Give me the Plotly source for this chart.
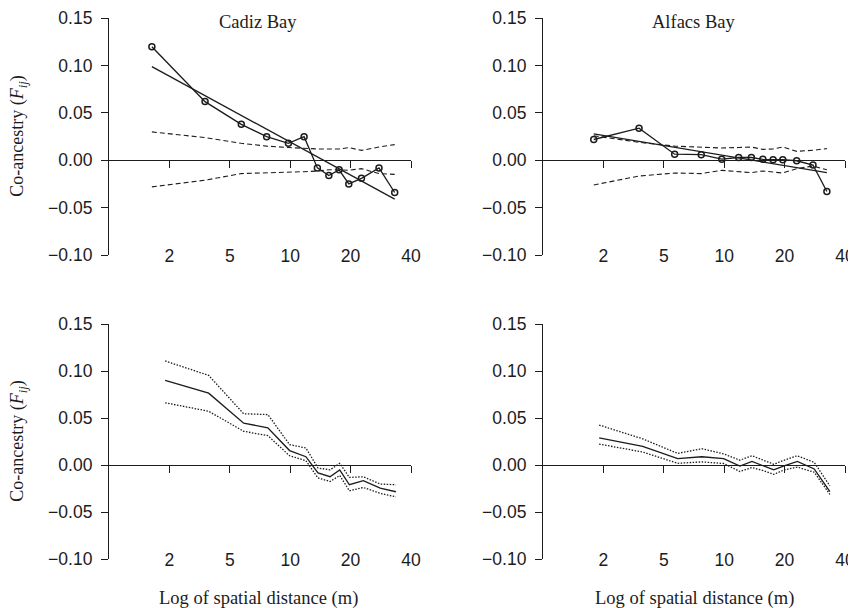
import plotly.graph_objects as go

# ---------------- data (x = position on the distance-class axis) ----------------
tick_pos = [0, 1, 2, 3, 4]
tick_labels = ["2", "5", "10", "20", "40"]
y_ticks = [-0.10, -0.05, 0.00, 0.05, 0.10, 0.15]
y_tick_labels = ["\u22120.10", "\u22120.05", "0.00", "0.05", "0.10", "0.15"]

# Top row: observed co-ancestry with permutation envelopes and regression
cadiz_dist = [-0.29, 0.59, 1.19, 1.61, 1.97, 2.23, 2.45, 2.64, 2.81, 2.97, 3.18, 3.47, 3.73]
cadiz_fij = [0.120, 0.062, 0.038, 0.025, 0.018, 0.025, -0.008, -0.016, -0.010, -0.025, -0.019, -0.008, -0.034]
cadiz_env_hi = [0.030, 0.024, 0.018, 0.015, 0.0135, 0.0125, 0.012, 0.012, 0.012, 0.0134, 0.0105, 0.014, 0.0166]
cadiz_env_lo = [-0.028, -0.021, -0.014, -0.0134, -0.0123, -0.012, -0.0113, -0.010, -0.010, -0.0105, -0.0088, -0.014, -0.0148]
cadiz_reg_x = [-0.29, 3.73]
cadiz_reg_y = [0.099, -0.041]

alfacs_dist = [-0.16, 0.59, 1.18, 1.62, 1.96, 2.24, 2.45, 2.64, 2.81, 2.97, 3.20, 3.47, 3.70]
alfacs_fij = [0.022, 0.034, 0.0065, 0.006, 0.0012, 0.003, 0.003, 0.001, 0.0007, 0.0007, -0.0005, -0.005, -0.033]
alfacs_env_hi = [0.026, 0.019, 0.015, 0.014, 0.013, 0.0135, 0.014, 0.0116, 0.012, 0.014, 0.0095, 0.0106, 0.0124]
alfacs_env_lo = [-0.026, -0.0166, -0.0134, -0.014, -0.0106, -0.012, -0.013, -0.0113, -0.012, -0.0134, -0.0088, -0.006, -0.010]
alfacs_reg_x = [-0.16, 3.70]
alfacs_reg_y = [0.028, -0.013]

# Bottom row: bootstrap mean with confidence limits
boot_dist = [-0.07, 0.65, 1.23, 1.63, 1.99, 2.26, 2.46, 2.66, 2.82, 2.98, 3.21, 3.49, 3.75]
cadiz_mean = [0.090, 0.0765, 0.0446, 0.0397, 0.0155, 0.009, -0.0083, -0.0123, -0.0051, -0.0208, -0.0165, -0.0243, -0.0282]
cadiz_hi = [0.1107, 0.0954, 0.0546, 0.0538, 0.0218, 0.0183, -0.003, -0.005, 0.002, -0.013, -0.0123, -0.020, -0.0208]
cadiz_lo = [0.0663, 0.0573, 0.036, 0.0314, 0.010, 0.0048, -0.0136, -0.0173, -0.011, -0.0272, -0.0237, -0.030, -0.0336]

alfacs_mean = [0.029, 0.020, 0.007, 0.009, 0.007, -0.001, 0.004, -0.001, -0.005, -0.001, 0.004, -0.004, -0.028]
alfacs_hi = [0.0426, 0.028, 0.0125, 0.0175, 0.012, 0.0053, 0.010, 0.005, 0.001, 0.005, 0.010, 0.003, -0.022]
alfacs_lo = [0.0224, 0.014, 0.002, 0.0035, 0.0018, -0.0067, -0.0025, -0.006, -0.0098, -0.0053, -0.002, -0.0075, -0.031]

panel_titles = ["Cadiz Bay", "Alfacs Bay"]
y_title = "Co-ancestry (<i>F</i><sub><i>ij</i></sub>)"
x_title = "Log of spatial distance (m)"

# ---------------- styling / layout ----------------
OFF = 8                 # page body margin
FW, FH = 848, 600       # figure size so that it ends at the window edge
INK = "#1c1c1c"
SANS = "Liberation Sans, Arial, Helvetica, sans-serif"
SERIF = "Liberation Serif, Times New Roman, serif"
XR = [-1, 4]
YR = [-0.10, 0.15]


def fx(p):  # page pixel x -> paper fraction
    return (p - OFF) / FW


def fy(p):  # page pixel y -> paper fraction (from bottom)
    return 1 - (p - OFF) / FH


xdoms = [[fx(109), fx(411)], [fx(543), fx(845)]]
ydoms = [[fy(255), fy(18.3)], [fy(559.3), fy(324)]]
title_x = [258, 693]

fig = go.Figure()

panels = [(0, 0), (0, 1), (1, 0), (1, 1)]
line_w = 1.35


def add(trace_kwargs, idx):
    sfx = "" if idx == 1 else str(idx)
    fig.add_trace(go.Scatter(xaxis="x" + sfx, yaxis="y" + sfx, showlegend=False,
                             hoverinfo="skip", **trace_kwargs))


dash_env = dict(color=INK, width=1.1, dash="5px,3px")
dot_ci = dict(color=INK, width=1.3, dash="1.5px,1.5px")
solid = dict(color=INK, width=line_w)
circ = dict(symbol="circle-open", size=6, color=INK, line=dict(width=1.5, color=INK))

# panel 1: Cadiz top
add(dict(x=cadiz_dist, y=cadiz_env_hi, mode="lines", line=dash_env), 1)
add(dict(x=cadiz_dist, y=cadiz_env_lo, mode="lines", line=dash_env), 1)
add(dict(x=cadiz_reg_x, y=cadiz_reg_y, mode="lines", line=solid), 1)
add(dict(x=cadiz_dist, y=cadiz_fij, mode="lines+markers", line=solid, marker=circ), 1)
# panel 2: Alfacs top
add(dict(x=alfacs_dist, y=alfacs_env_hi, mode="lines", line=dash_env), 2)
add(dict(x=alfacs_dist, y=alfacs_env_lo, mode="lines", line=dash_env), 2)
add(dict(x=alfacs_reg_x, y=alfacs_reg_y, mode="lines", line=solid), 2)
add(dict(x=alfacs_dist, y=alfacs_fij, mode="lines+markers", line=solid, marker=circ), 2)
# panel 3: Cadiz bottom
add(dict(x=boot_dist, y=cadiz_hi, mode="lines", line=dot_ci), 3)
add(dict(x=boot_dist, y=cadiz_lo, mode="lines", line=dot_ci), 3)
add(dict(x=boot_dist, y=cadiz_mean, mode="lines", line=solid), 3)
# panel 4: Alfacs bottom
add(dict(x=boot_dist, y=alfacs_hi, mode="lines", line=dot_ci), 4)
add(dict(x=boot_dist, y=alfacs_lo, mode="lines", line=dot_ci), 4)
add(dict(x=boot_dist, y=alfacs_mean, mode="lines", line=solid), 4)

layout = dict(
    width=FW, height=FH,
    margin=dict(l=0, r=0, t=0, b=0),
    paper_bgcolor="white", plot_bgcolor="white",
    showlegend=False,
)

annotations = []
for i, (r, c) in enumerate(panels, start=1):
    sfx = "" if i == 1 else str(i)
    xd, yd = xdoms[c], ydoms[r]
    zero_pos = yd[0] + (0 - YR[0]) / (YR[1] - YR[0]) * (yd[1] - yd[0])
    # axis carrying data: drawn along y = 0 with downward ticks
    layout["xaxis" + sfx] = dict(
        domain=xd, range=XR, anchor="free", position=zero_pos,
        showline=True, linecolor=INK, linewidth=1.2,
        ticks="outside", ticklen=7, tickwidth=1.2, tickcolor=INK,
        tickvals=tick_pos, ticktext=tick_labels, showticklabels=False,
        showgrid=False, zeroline=False, fixedrange=True,
    )
    layout["yaxis" + sfx] = dict(
        domain=yd, range=YR, anchor="x" + sfx,
        showline=True, linecolor=INK, linewidth=1.2,
        ticks="outside", ticklen=7, tickwidth=1.2, tickcolor=INK,
        tickvals=y_ticks, ticktext=y_tick_labels,
        tickfont=dict(family=SANS, size=17.5, color=INK),
        ticklabelstandoff=5,
        showgrid=False, zeroline=False, fixedrange=True, automargin=False,
    )
    # label-only axis at the bottom edge of the panel
    j = i + 4
    layout["xaxis" + str(j)] = dict(
        domain=xd, range=XR, anchor="y" + sfx, overlaying="x" + sfx, side="bottom",
        showline=False, ticks="", tickvals=tick_pos, ticktext=tick_labels,
        tickfont=dict(family=SANS, size=17.5, color=INK),
        ticklabelstandoff=-12,
        showgrid=False, zeroline=False, fixedrange=True, automargin=False,
    )
    fig.add_trace(go.Scatter(x=[], y=[], xaxis="x" + str(j), yaxis="y" + sfx,
                             showlegend=False, hoverinfo="skip"))

    ymid = (yd[0] + yd[1]) / 2
    if c == 0:
        annotations.append(dict(text=y_title, x=fx(19), y=ymid, xref="paper", yref="paper",
                                textangle=-90, showarrow=False, xanchor="center", yanchor="middle",
                                font=dict(family=SERIF, size=18, color=INK)))
    if r == 0:
        annotations.append(dict(text=panel_titles[c], x=fx(title_x[c]), y=fy(22),
                                xref="paper", yref="paper", showarrow=False,
                                xanchor="center", yanchor="middle",
                                font=dict(family=SERIF, size=18.5, color=INK)))
    else:
        annotations.append(dict(text=x_title, x=fx(title_x[c] + 1), y=fy(598),
                                xref="paper", yref="paper", showarrow=False,
                                xanchor="center", yanchor="middle",
                                font=dict(family=SERIF, size=18.5, color=INK)))

layout["annotations"] = annotations
fig.update_layout(**layout)
fig.write_html("out.html")
